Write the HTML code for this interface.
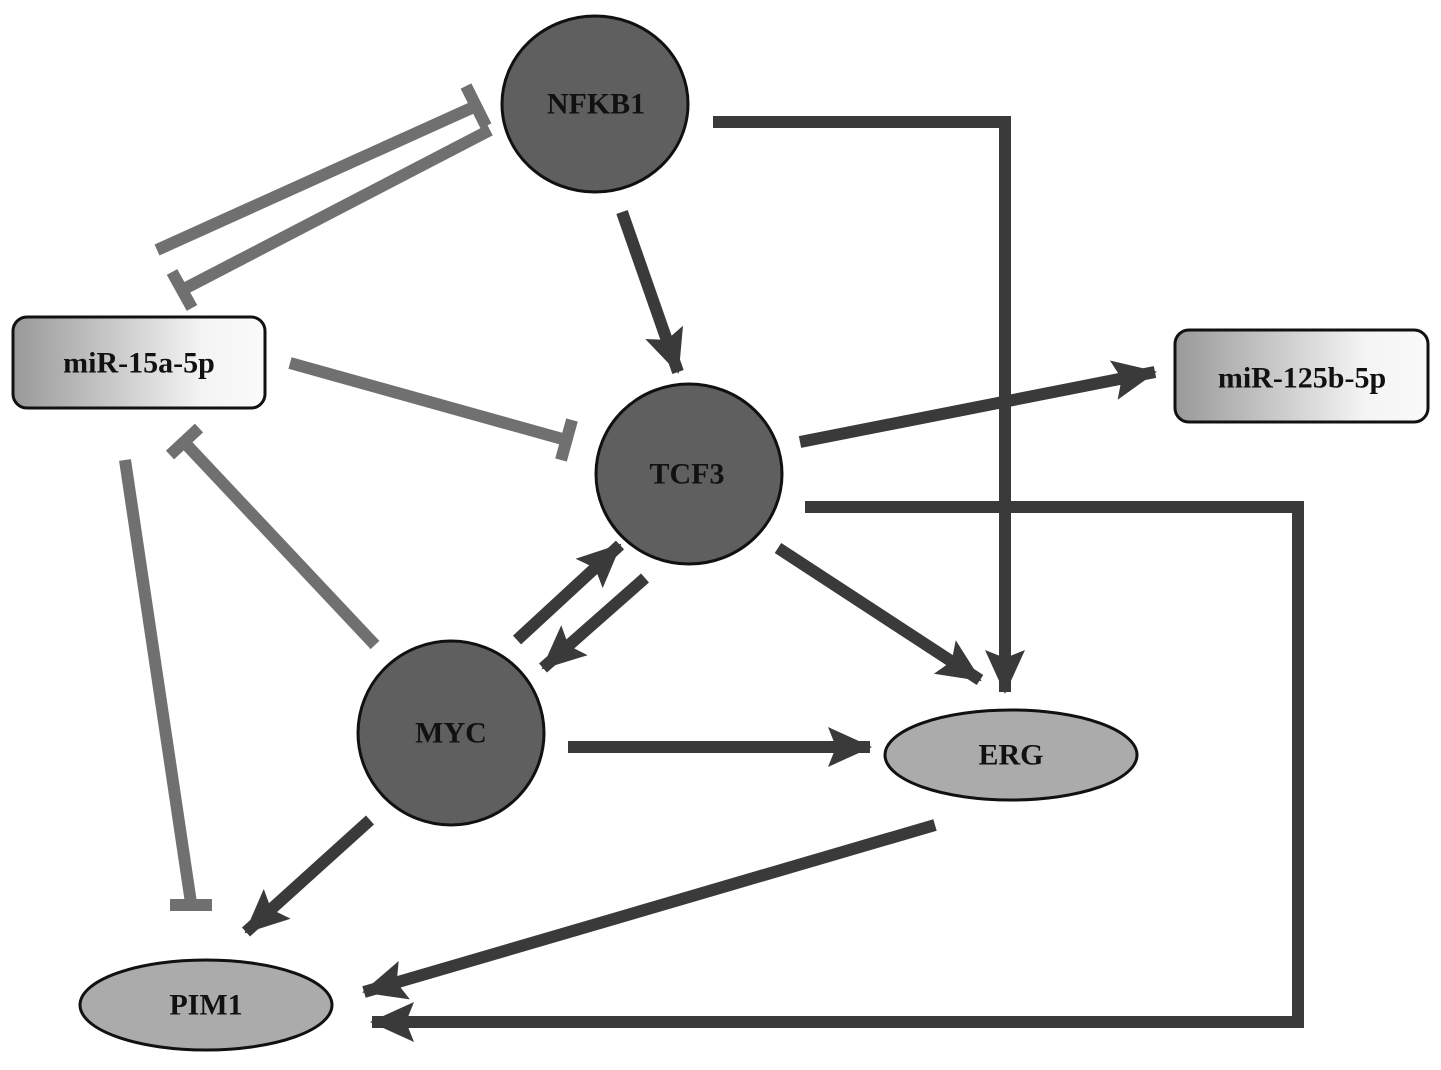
<!DOCTYPE html>
<html><head><meta charset="utf-8"><style>
html,body{margin:0;padding:0;background:#fff;}
svg{display:block;}
text{font-family:"Liberation Serif",serif;font-weight:bold;font-size:30px;fill:#111;text-anchor:middle;dominant-baseline:central;}
</style></head><body>
<svg width="1441" height="1070" viewBox="0 0 1441 1070" xmlns="http://www.w3.org/2000/svg">
<defs>
<linearGradient id="g" x1="0" x2="1" y1="0" y2="0"><stop offset="0" stop-color="#999"/><stop offset="0.75" stop-color="#f4f4f4"/><stop offset="1" stop-color="#fafafa"/></linearGradient>
<marker id="a" markerUnits="userSpaceOnUse" markerWidth="46" markerHeight="46" refX="42" refY="20" orient="auto"><path d="M0,0 L44,20 L0,40 L8,20 Z" fill="#3a3a3a"/></marker>
</defs>
<g stroke-linecap="butt" fill="none">
<!-- inhibitions -->
<g stroke="#707070" stroke-width="12">
<line x1="157" y1="250" x2="476" y2="106"/><line x1="466" y1="86" x2="486" y2="126"/>
<line x1="490" y1="130" x2="182" y2="290"/><line x1="172" y1="272" x2="192" y2="308"/>
<line x1="290" y1="363" x2="566" y2="440"/><line x1="572" y1="420" x2="561" y2="460"/>
<line x1="375" y1="645" x2="184" y2="442"/><line x1="170" y1="455" x2="199" y2="428"/>
<line x1="125" y1="460" x2="191" y2="903"/><line x1="170" y1="905" x2="212" y2="905"/>
</g>
<!-- arrows -->
<g stroke="#3a3a3a" stroke-width="12">
<line x1="622" y1="212" x2="678" y2="372" marker-end="url(#a)"/>
<polyline points="713,122 1005,122 1005,692" marker-end="url(#a)"/>
<line x1="800" y1="442" x2="1155" y2="372" marker-end="url(#a)"/>
<polyline points="805,507 1298,507 1298,1022 372,1022" marker-end="url(#a)"/>
<line x1="778" y1="548" x2="980" y2="680" marker-end="url(#a)"/>
<line x1="517" y1="640" x2="620" y2="545" marker-end="url(#a)"/>
<line x1="645" y1="578" x2="543" y2="668" marker-end="url(#a)"/>
<line x1="568" y1="747" x2="870" y2="747" marker-end="url(#a)"/>
<line x1="370" y1="820" x2="246" y2="932" marker-end="url(#a)"/>
<line x1="935" y1="825" x2="364" y2="992" marker-end="url(#a)"/>
</g>
</g>
<!-- nodes -->
<g stroke="#111" stroke-width="3">
<ellipse cx="595" cy="104" rx="93" ry="88" fill="#5f5f5f"/>
<ellipse cx="689" cy="474" rx="93" ry="90" fill="#5f5f5f"/>
<ellipse cx="451" cy="733" rx="93" ry="92" fill="#5f5f5f"/>
<ellipse cx="1011" cy="755" rx="126" ry="45" fill="#ababab"/>
<ellipse cx="206" cy="1005" rx="126" ry="45" fill="#ababab"/>
<rect x="13" y="317" width="252" height="91" rx="14" fill="url(#g)"/>
<rect x="1175" y="330" width="253" height="92" rx="14" fill="url(#g)"/>
</g>
<text x="596" y="104">NFKB1</text>
<text x="687" y="474">TCF3</text>
<text x="451" y="733">MYC</text>
<text x="1011" y="755">ERG</text>
<text x="206" y="1005">PIM1</text>
<text x="139" y="363">miR-15a-5p</text>
<text x="1302" y="378">miR-125b-5p</text>
</svg>
</body></html>
